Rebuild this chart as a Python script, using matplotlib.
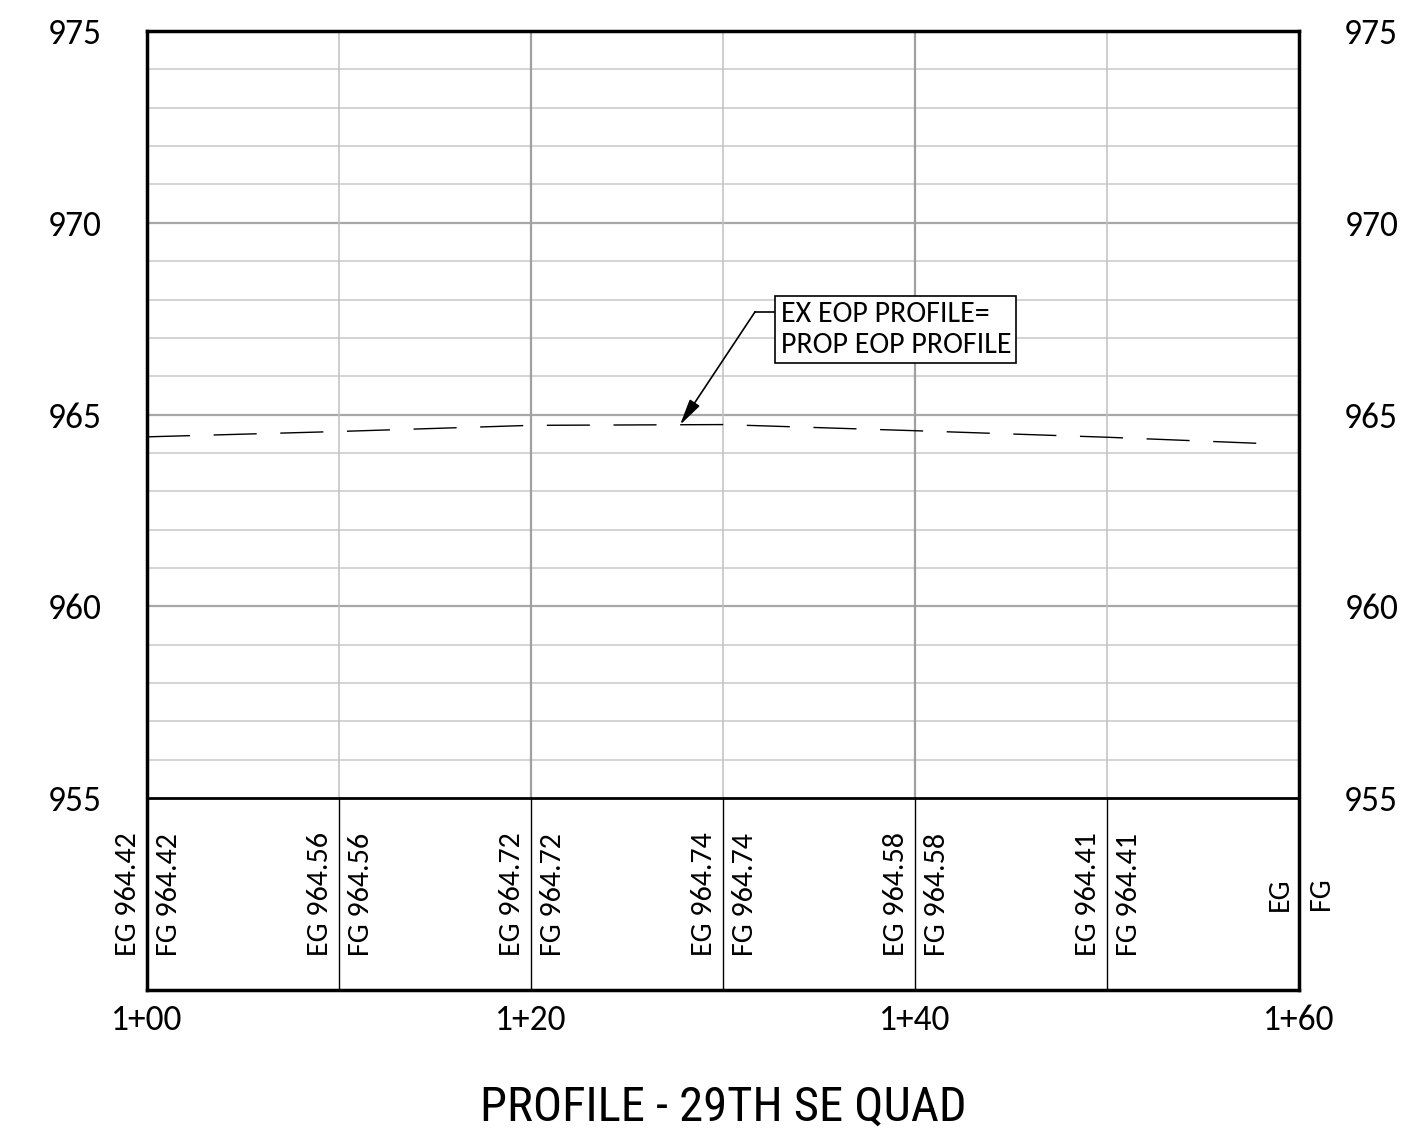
import matplotlib
matplotlib.use("Agg")
import matplotlib.pyplot as plt
from matplotlib import font_manager

# ---- data ----
stations = [100, 110, 120, 130, 140, 150, 158.4]
elev = [964.42, 964.56, 964.72, 964.74, 964.58, 964.41, 964.24]
label_stations = [100, 110, 120, 130, 140, 150, 160]
label_values = ["964.42", "964.56", "964.72", "964.74", "964.58", "964.41", ""]
xtick_pos = [100, 120, 140, 160]
xtick_labels = ["1+00", "1+20", "1+40", "1+60"]
ytick_pos = [955, 960, 965, 970, 975]
title = "PROFILE - 29TH SE QUAD"
callout = "EX EOP PROFILE=\nPROP EOP PROFILE"

installed = set(f.name for f in font_manager.fontManager.ttflist)
body_font = [f for f in ['Carlito', 'Open Sans'] if f in installed] + ['DejaVu Sans']
title_font = [f for f in ['Roboto Condensed', 'Archivo Narrow', 'Liberation Sans']
              if f in installed][:1] + ['DejaVu Sans']

plt.rcParams['font.family'] = body_font
plt.rcParams['lines.scale_dashes'] = False

W, H = 1419, 1141
fig = plt.figure(figsize=(W / 100, H / 100), dpi=100)
ax = fig.add_axes([147 / W, 1 - 990 / H, (1299 - 147) / W, (990 - 31) / H])
ax.set_xlim(100, 160)
ax.set_ylim(950, 975)

# grid
for y in range(956, 975):
    major = (y % 5 == 0)
    ax.plot([100, 160], [y, y], color='#a8a8a8' if major else '#cccccc',
            lw=1.6 if major else 1.2, zorder=1)
for x in range(110, 160, 10):
    major = (x % 20 == 0)
    ax.plot([x, x], [955, 975], color='#a0a0a0' if major else '#c0c0c0',
            lw=1.6 if major else 1.1, zorder=1)
    ax.plot([x, x], [950, 955], color='black', lw=1.0, zorder=2)
ax.plot([100, 160], [955, 955], color='black', lw=2.0, zorder=3)

# profile
ax.plot(stations, elev, color='black', lw=1.0, dashes=(31, 17), zorder=4)

# band labels
for s, v in zip(label_stations, label_values):
    eg = ("EG " + v).strip()
    fg = ("FG " + v).strip()
    ax.annotate(eg, (s, 952.5), xytext=(-13.7, 0), textcoords='offset points',
                rotation=90, ha='center', va='center', fontsize=21.6,
                annotation_clip=False)
    ax.annotate(fg, (s, 952.5), xytext=(15.8, 0), textcoords='offset points',
                rotation=90, ha='center', va='center', fontsize=21.6,
                annotation_clip=False)

# callout
ax.text(133.0, 967.22, callout, ha='left', va='center', fontsize=21.6,
        linespacing=1.2, zorder=6,
        bbox=dict(boxstyle='square,pad=0.17', fc='white', ec='black', lw=1.2))
ax.plot([132.66, 131.67], [967.68, 967.68], color='black', lw=1.2, zorder=5)
ax.annotate('', xy=(127.76, 964.73), xytext=(131.67, 967.68),
            arrowprops=dict(arrowstyle='-|>,head_length=0.8,head_width=0.18',
                            color='black', lw=1.2, shrinkA=0, shrinkB=0,
                            mutation_scale=20), zorder=5)

# axes styling
for sp in ax.spines.values():
    sp.set_linewidth(2.5)
    sp.set_color('black')
ax.set_xticks(xtick_pos)
ax.set_xticklabels(xtick_labels, fontsize=25.6)
ax.set_yticks(ytick_pos)
ax.set_yticklabels([str(v) for v in ytick_pos], fontsize=25.6)
ax.tick_params(axis='both', length=0)
ax.tick_params(axis='x', pad=10)
ax.tick_params(axis='y', labelleft=True, labelright=True, pad=52)
for t in ax.yaxis.get_major_ticks():
    t.label1.set_horizontalalignment('center')
    t.label2.set_horizontalalignment('center')

fig.text(723 / W, 1 - 1108 / H, title, ha='center', va='center', fontsize=35,
         family=title_font)

fig.savefig('out.png', dpi=100, facecolor='white')
